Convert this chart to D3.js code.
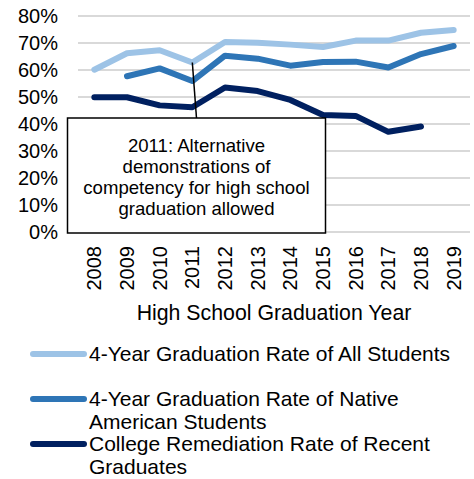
<!DOCTYPE html>
<html>
<head>
<meta charset="utf-8">
<script src="https://cdn.jsdelivr.net/npm/d3@7"></script>
<style>
  body { margin: 0; background: #fff; }
  svg { display: block; font-family: "Liberation Sans", Arial, sans-serif; }
</style>
</head>
<body>
<div id="chart"></div>
<script>
// data
const years = [2008, 2009, 2010, 2011, 2012, 2013, 2014, 2015, 2016, 2017, 2018, 2019];
const allStudents = [60.1, 66.2, 67.3, 62.8, 70.4, 70.1, 69.4, 68.5, 70.9, 70.9, 73.8, 74.8];
const nativeStudents = [null, 57.7, 60.6, 55.9, 65.3, 64.2, 61.6, 63.0, 63.1, 60.9, 65.9, 68.9];
const remediation = [49.9, 49.9, 46.9, 46.2, 53.5, 52.2, 48.9, 43.3, 43.0, 37.1, 39.1, null];
const yTicks = [0, 10, 20, 30, 40, 50, 60, 70, 80];

const seriesNames = [
  ["4-Year Graduation Rate of All Students"],
  ["4-Year Graduation Rate of Native", "American Students"],
  ["College Remediation Rate of Recent", "Graduates"]
];
const seriesColors = ["#9DC3E6", "#2E75B6", "#002060"];
const noteLines = ["2011: Alternative", "demonstrations of", "competency for high school", "graduation allowed"];

const width = 474, height = 479;

const svg = d3.select("#chart").append("svg")
  .attr("width", width)
  .attr("height", height);

const x = d3.scaleBand().domain(years).range([78, 470]).padding(0);
const y = d3.scaleLinear().domain([0, 80]).range([232, 16]);
const cx = d => x(d) + x.bandwidth() / 2;

// gridlines
svg.append("g").selectAll("line")
  .data(yTicks)
  .enter().append("line")
  .attr("x1", 78).attr("x2", 470)
  .attr("y1", d => y(d)).attr("y2", d => y(d))
  .attr("stroke", "#D9D9D9")
  .attr("stroke-width", 2);

// y labels
svg.append("g").selectAll("text")
  .data(yTicks)
  .enter().append("text")
  .attr("x", 58)
  .attr("y", d => y(d))
  .attr("dy", "0.35em")
  .attr("text-anchor", "end")
  .style("font-size", "20px")
  .attr("fill", "#000")
  .text(d => d + "%");

// x labels, rotated
svg.append("g").selectAll("text")
  .data(years)
  .enter().append("text")
  .attr("transform", d => `translate(${cx(d)},246) rotate(-90)`)
  .attr("dy", "0.35em")
  .attr("text-anchor", "end")
  .style("font-size", "20px")
  .text(d => d);

svg.append("text")
  .attr("x", 274)
  .attr("y", 313)
  .attr("dy", "0.35em")
  .attr("text-anchor", "middle")
  .style("font-size", "21.3px")
  .text("High School Graduation Year");

// series lines
const allSeries = [allStudents, nativeStudents, remediation];
const line = d3.line()
  .defined(d => d[1] != null)
  .x(d => cx(d[0]))
  .y(d => y(d[1]));

svg.append("g").selectAll("path")
  .data(allSeries)
  .enter().append("path")
  .attr("d", s => line(years.map((yr, i) => [yr, s[i]])))
  .attr("fill", "none")
  .attr("stroke", (d, i) => seriesColors[i])
  .attr("stroke-width", 6)
  .attr("stroke-linejoin", "round")
  .attr("stroke-linecap", "round");

// annotation
const boxX = 67.5, boxY = 118, boxW = 258, boxH = 115;
const i2011 = years.indexOf(2011);
svg.append("line")
  .attr("x1", cx(2011)).attr("y1", y(allStudents[i2011]))
  .attr("x2", boxX + boxW / 2).attr("y2", boxY)
  .attr("stroke", "#000")
  .attr("stroke-width", 1.5);

svg.append("rect")
  .attr("x", boxX).attr("y", boxY)
  .attr("width", boxW).attr("height", boxH)
  .attr("fill", "#fff")
  .attr("stroke", "#000")
  .attr("stroke-width", 1.5);

svg.append("g").selectAll("text")
  .data(noteLines)
  .enter().append("text")
  .attr("x", boxX + boxW / 2)
  .attr("y", (d, i) => 151.5 + i * 21.2)
  .attr("text-anchor", "middle")
  .style("font-size", "18.6px")
  .text(d => d);

// legend
const legendY = [354, 399, 444];
const legend = svg.append("g").selectAll("g")
  .data(seriesNames)
  .enter().append("g")
  .attr("transform", (d, i) => `translate(0,${legendY[i]})`);

legend.append("line")
  .attr("x1", 33).attr("x2", 84)
  .attr("stroke", (d, i) => seriesColors[i])
  .attr("stroke-width", 6)
  .attr("stroke-linecap", "round");

legend.selectAll("text")
  .data(d => d)
  .enter().append("text")
  .attr("x", 89)
  .attr("y", (d, i) => i * 22.5)
  .attr("dy", "0.35em")
  .style("font-size", "21px")
  .text(d => d);
</script>
</body>
</html>
